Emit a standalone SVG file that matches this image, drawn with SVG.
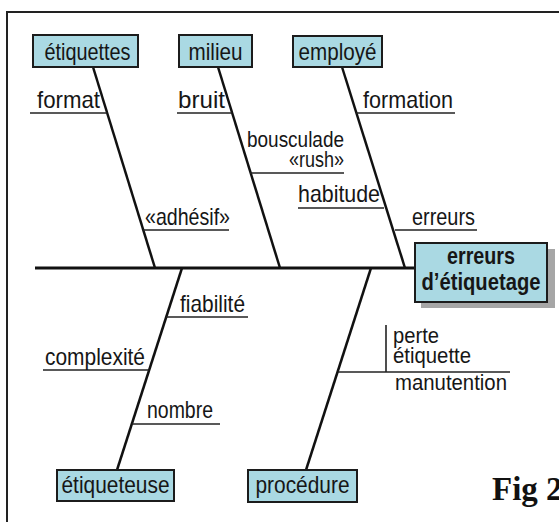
<svg xmlns="http://www.w3.org/2000/svg" width="559" height="522" viewBox="0 0 559 522">
<style>
.box{fill:#aad9e3;stroke:#1c1c1c;stroke-width:2}
.shadow{fill:#a6a6a6}
.t{font-family:"Liberation Sans",Arial,sans-serif;font-size:24px;fill:#161616}
.s{font-size:22px}
.bt{font-family:"Liberation Sans",Arial,sans-serif;font-size:23px;font-weight:bold;fill:#161616}
.spine{stroke:#111;stroke-width:3;fill:none}
.bone{stroke:#111;stroke-width:2.5;fill:none}
.sub{stroke:#222;stroke-width:1.6;fill:none}
.fig{font-family:"Liberation Serif","Times New Roman",serif;font-size:33px;font-weight:bold;fill:#111}
</style>
<rect x="0" y="0" width="559" height="522" fill="#ffffff"/>
<g id="frame">
<path d="M559,12 H7 V522" fill="none" stroke="#222" stroke-width="2"/>
</g>
<g id="connectors">
<line class="spine" x1="35" y1="268" x2="415" y2="268"/>
<line class="bone" x1="93" y1="67" x2="155" y2="268"/>
<line class="bone" x1="218" y1="67" x2="280" y2="268"/>
<line class="bone" x1="342" y1="67" x2="405" y2="268"/>
<line class="bone" x1="182" y1="268" x2="117" y2="470"/>
<line class="bone" x1="371" y1="268" x2="306" y2="470"/>
<line class="sub" x1="30" y1="113" x2="107" y2="113"/>
<line class="sub" x1="143" y1="230" x2="229" y2="230"/>
<line class="sub" x1="177" y1="113" x2="232" y2="113"/>
<line class="sub" x1="250" y1="173" x2="344" y2="173"/>
<line class="sub" x1="356" y1="113" x2="455" y2="113"/>
<line class="sub" x1="298" y1="208" x2="384" y2="208"/>
<line class="sub" x1="395" y1="230" x2="477" y2="230"/>
<line class="sub" x1="166" y1="317" x2="248" y2="317"/>
<line class="sub" x1="43" y1="370" x2="149" y2="370"/>
<line class="sub" x1="132" y1="424" x2="220" y2="424"/>
<line class="sub" x1="338" y1="372" x2="510" y2="372"/>
<line class="sub" x1="386" y1="325" x2="386" y2="372"/>
<text class="t" x="37" y="108" textLength="63" lengthAdjust="spacingAndGlyphs">format</text>
<text class="t" x="145" y="225" textLength="85" lengthAdjust="spacingAndGlyphs">«adhésif»</text>
<text class="t" x="178" y="108" textLength="47" lengthAdjust="spacingAndGlyphs">bruit</text>
<text class="t s" x="344" y="147" text-anchor="end" textLength="97" lengthAdjust="spacingAndGlyphs">bousculade</text>
<text class="t s" x="344" y="167" text-anchor="end" textLength="55" lengthAdjust="spacingAndGlyphs">«rush»</text>
<text class="t" x="363" y="108" textLength="90" lengthAdjust="spacingAndGlyphs">formation</text>
<text class="t" x="298" y="202" textLength="82" lengthAdjust="spacingAndGlyphs">habitude</text>
<text class="t" x="412" y="225" textLength="63" lengthAdjust="spacingAndGlyphs">erreurs</text>
<text class="t" x="180" y="312" textLength="65" lengthAdjust="spacingAndGlyphs">fiabilité</text>
<text class="t" x="45" y="365" textLength="100" lengthAdjust="spacingAndGlyphs">complexité</text>
<text class="t" x="147" y="418" textLength="66" lengthAdjust="spacingAndGlyphs">nombre</text>
<text class="t s" x="393" y="343" textLength="46" lengthAdjust="spacingAndGlyphs">perte</text>
<text class="t s" x="393" y="363" textLength="78" lengthAdjust="spacingAndGlyphs">étiquette</text>
<text class="t s" x="395" y="390" textLength="112" lengthAdjust="spacingAndGlyphs">manutention</text>
</g>
<g id="node-etiquettes">
<rect class="box" x="33" y="35" width="105" height="32"/>
<text class="t" x="87.5" y="60" text-anchor="middle" textLength="86" lengthAdjust="spacingAndGlyphs">étiquettes</text>
</g>
<g id="node-milieu">
<rect class="box" x="179" y="35" width="73" height="32"/>
<text class="t" x="215.5" y="60" text-anchor="middle" textLength="54" lengthAdjust="spacingAndGlyphs">milieu</text>
</g>
<g id="node-employe">
<rect class="box" x="293" y="36" width="89" height="31"/>
<text class="t" x="337.5" y="60" text-anchor="middle" textLength="78" lengthAdjust="spacingAndGlyphs">employé</text>
</g>
<g id="node-erreurs">
<rect class="shadow" x="421" y="249" width="134" height="59"/>
<rect class="box" x="415" y="243" width="132" height="59"/>
<text class="bt" x="481" y="264" text-anchor="middle" textLength="68" lengthAdjust="spacingAndGlyphs">erreurs</text>
<text class="bt" x="481" y="290" text-anchor="middle" textLength="119" lengthAdjust="spacingAndGlyphs">d’étiquetage</text>
</g>
<g id="node-etiqueteuse">
<rect class="box" x="57" y="470" width="117" height="31"/>
<text class="t" x="115.5" y="493" text-anchor="middle" textLength="108" lengthAdjust="spacingAndGlyphs">étiqueteuse</text>
</g>
<g id="node-procedure">
<rect class="box" x="248" y="470" width="109" height="32"/>
<text class="t" x="302.5" y="493" text-anchor="middle" textLength="94" lengthAdjust="spacingAndGlyphs">procédure</text>
</g>
<text class="fig" x="492" y="500">Fig 2</text>
</svg>
